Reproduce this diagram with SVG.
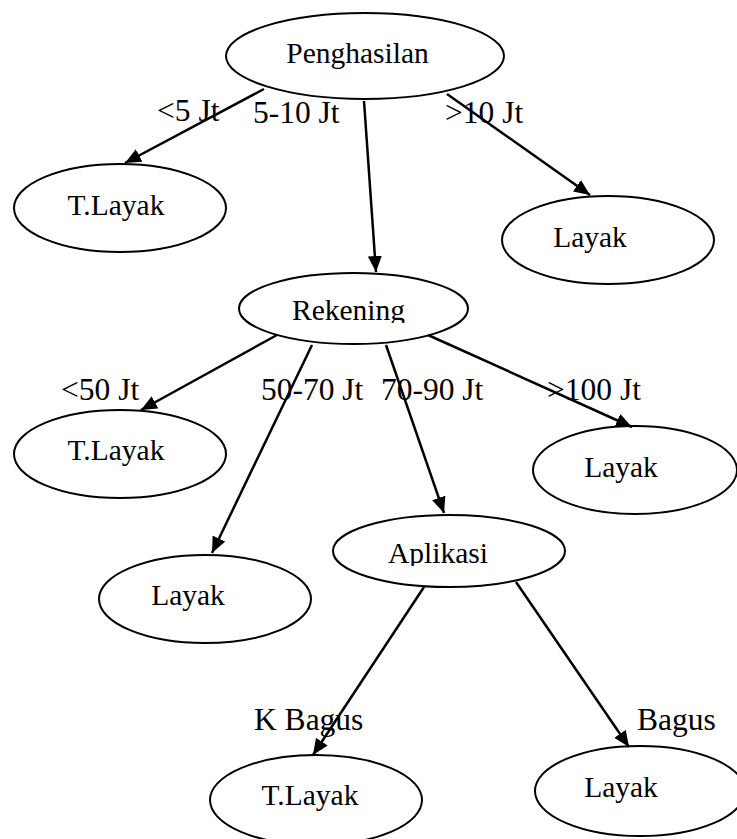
<svg xmlns="http://www.w3.org/2000/svg" width="737" height="839" viewBox="0 0 737 839">
  <style>
    .node ellipse { fill: #ffffff; stroke: #000000; stroke-width: 2; }
    .node text, .label { font-family: "Liberation Serif", "Times New Roman", serif; fill: #000000; }
    .node text { font-size: 29.5px; text-anchor: middle; }
    .label { font-size: 31.5px; }
    .edge line { stroke: #000000; stroke-width: 2.5; marker-end: url(#arrow); }
  </style>
  <defs>
    <marker id="arrow" markerUnits="userSpaceOnUse" markerWidth="18" markerHeight="14" refX="16" refY="7" orient="auto">
      <path d="M0,0 L16,7 L0,14 Z" fill="#000000"/>
    </marker>
    <!-- text boxes cut off the descenders of these two labels -->
    <clipPath id="clip-rekening"><rect x="250" y="280" width="210" height="43"/></clipPath>
    <clipPath id="clip-aplikasi"><rect x="340" y="520" width="210" height="46"/></clipPath>
  </defs>

  <rect x="0" y="0" width="737" height="839" fill="#ffffff"/>

  <!-- decision tree nodes -->
  <g id="penghasilan" class="node">
    <ellipse cx="365" cy="56" rx="139" ry="43"/>
    <text x="357.5" y="63">Penghasilan</text>
  </g>
  <g id="tlayak-1" class="node">
    <ellipse cx="120" cy="208" rx="106" ry="44"/>
    <text x="116" y="215">T.Layak</text>
  </g>
  <g id="layak-1" class="node">
    <ellipse cx="608" cy="240" rx="106" ry="44"/>
    <text x="590" y="247">Layak</text>
  </g>
  <g id="rekening" class="node">
    <ellipse cx="353.5" cy="308.5" rx="114.5" ry="35.5"/>
    <text x="348.5" y="320" clip-path="url(#clip-rekening)">Rekening</text>
  </g>
  <g id="tlayak-2" class="node">
    <ellipse cx="120" cy="454" rx="106" ry="44"/>
    <text x="116" y="460">T.Layak</text>
  </g>
  <g id="layak-2" class="node">
    <ellipse cx="635" cy="470" rx="102" ry="44"/>
    <text x="621" y="477">Layak</text>
  </g>
  <g id="layak-3" class="node">
    <ellipse cx="205" cy="599" rx="106" ry="44"/>
    <text x="188" y="605">Layak</text>
  </g>
  <g id="aplikasi" class="node">
    <ellipse cx="449" cy="551" rx="116" ry="36"/>
    <text x="438" y="563" clip-path="url(#clip-aplikasi)">Aplikasi</text>
  </g>
  <g id="tlayak-3" class="node">
    <ellipse cx="316" cy="800" rx="106" ry="45"/>
    <text x="310" y="805">T.Layak</text>
  </g>
  <g id="layak-4" class="node">
    <ellipse cx="640" cy="791" rx="105" ry="45"/>
    <text x="621" y="797">Layak</text>
  </g>

  <!-- connectors -->
  <g id="edges" class="edge">
    <line x1="264" y1="89" x2="125" y2="163"/>
    <line x1="364" y1="101" x2="376" y2="272"/>
    <line x1="447" y1="94" x2="590" y2="195"/>
    <line x1="277" y1="335" x2="141" y2="410"/>
    <line x1="312" y1="345" x2="212" y2="553"/>
    <line x1="386" y1="345" x2="444" y2="513"/>
    <line x1="428" y1="335" x2="632" y2="427"/>
    <line x1="424" y1="587" x2="313" y2="755"/>
    <line x1="516" y1="582" x2="629" y2="747"/>
  </g>

  <!-- branch labels -->
  <g id="labels">
    <text class="label" x="157" y="121">&lt;5 Jt</text>
    <text class="label" x="253" y="123">5-10 Jt</text>
    <text class="label" x="445" y="123">&gt;10 Jt</text>
    <text class="label" x="61" y="400">&lt;50 Jt</text>
    <text class="label" x="261" y="400">50-70 Jt</text>
    <text class="label" x="381" y="400">70-90 Jt</text>
    <text class="label" x="547" y="400">&gt;100 Jt</text>
    <text class="label" x="254" y="730">K Bagus</text>
    <text class="label" x="637" y="730">Bagus</text>
  </g>
</svg>
